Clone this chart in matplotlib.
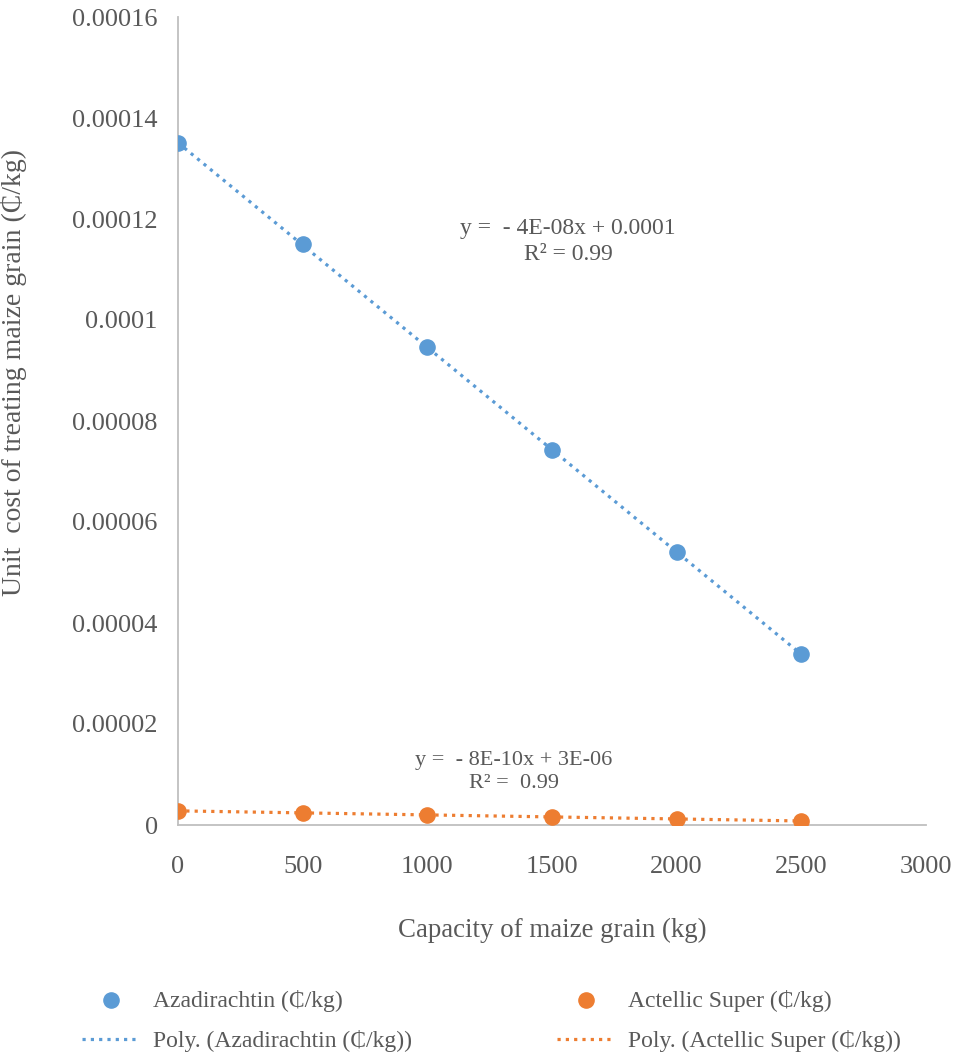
import matplotlib
matplotlib.use("Agg")
import matplotlib.pyplot as plt
import numpy as np

plt.rcParams["font.family"] = ["Liberation Serif", "DejaVu Serif"]

capacity = [0, 500, 1000, 1500, 2000, 2500]
azadirachtin = [0.000135, 0.000115, 0.0000946, 0.0000742, 0.0000541, 0.0000338]
actellic = [0.0000028, 0.0000024, 0.0000020, 0.0000016, 0.0000012, 0.0000008]

x_ticks = [0, 500, 1000, 1500, 2000, 2500, 3000]
y_ticks = [0, 0.00002, 0.00004, 0.00006, 0.00008, 0.0001, 0.00012, 0.00014, 0.00016]
y_tick_labels = ["0", "0.00002", "0.00004", "0.00006", "0.00008", "0.0001",
                 "0.00012", "0.00014", "0.00016"]

blue = "#5B9BD5"
orange = "#ED7D31"
grey = "#595959"
fs = 19

fig = plt.figure(figsize=(9.57, 10.58), dpi=100)
ax = fig.add_axes([178/957, 1-825/1058, (926-178)/957, (825-17)/1058])

x = np.array(capacity)
a1, b1 = np.polyfit(x, azadirachtin, 1)
a2, b2 = np.polyfit(x, actellic, 1)

ax.scatter(capacity, azadirachtin, s=120, color=blue, zorder=3, label="Azadirachtin (₵/kg)")
ax.plot(x, a1*x + b1, ls=(0, (1, 1.6)), lw=2.3, color=blue, zorder=2,
        label="Poly. (Azadirachtin (₵/kg))")
ax.scatter(capacity, actellic, s=120, color=orange, zorder=3, label="Actellic Super (₵/kg)")
ax.plot(x, a2*x + b2, ls=(0, (1, 1.6)), lw=2.3, color=orange, zorder=2,
        label="Poly. (Actellic Super (₵/kg))")

ax.set_xlim(0, 3000)
ax.set_ylim(0, 0.00016)
ax.set_xticks(x_ticks)
ax.set_yticks(y_ticks)
ax.set_yticklabels(y_tick_labels)
ax.tick_params(axis="x", length=0, pad=22, labelsize=fs, labelcolor=grey)
ax.tick_params(axis="y", length=0, pad=14.5, labelsize=fs, labelcolor=grey)

for s in ["top", "right"]:
    ax.spines[s].set_visible(False)
ax.spines["left"].set_color("#BFBFBF")
ax.spines["bottom"].set_color("#BFBFBF")
ax.spines["left"].set_linewidth(1.3)
ax.spines["bottom"].set_linewidth(1.3)

ax.text(1564, 0.0001155, "y =  - 4E-08x + 0.0001\nR² = 0.99", ha="center", va="center",
        fontsize=17, color=grey, linespacing=1.3)
ax.text(1348, 0.00001046, "y =  - 8E-10x + 3E-06\nR² =  0.99", ha="center", va="center",
        fontsize=16, color=grey, linespacing=1.3)

fig.text(552/957, 1-930/1058, "Capacity of maize grain (kg)", ha="center", va="center",
         fontsize=19.4, color=grey)
fig.text(14/957, 1-372/1058, "Unit  cost of treating maize grain (₵/kg)", ha="center",
         va="center", rotation=90, fontsize=20, color=grey)

handles, labels = ax.get_legend_handles_labels()
order = [0, 1, 2, 3]
leg = fig.legend([handles[i] for i in order], [labels[i] for i in order], ncol=2,
                 loc="center left", bbox_to_anchor=(61/957, 1-1021/1058), frameon=False,
                 fontsize=17, labelcolor=grey, columnspacing=6.15, handlelength=2.4,
                 handletextpad=0.6, labelspacing=0.8)

fig.savefig("out.png", dpi=100)
